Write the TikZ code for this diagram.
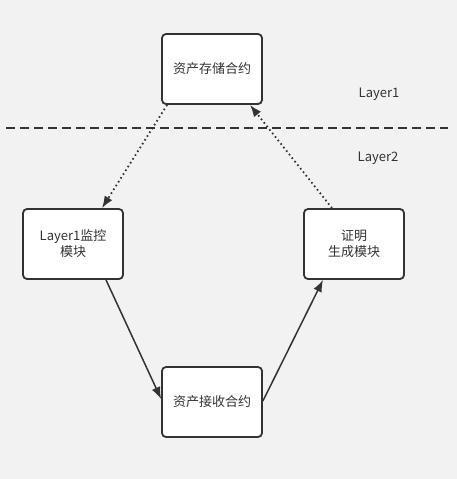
\documentclass[tikz,border=0pt]{standalone}
\usepackage{fontspec}
\setmainfont{Noto Sans CJK SC}
\usetikzlibrary{arrows.meta}
\definecolor{bg}{HTML}{F2F2F2}
\definecolor{ink}{HTML}{333333}
\begin{document}
\begin{tikzpicture}[x=1pt,y=-1pt,
  box/.style={draw=ink, fill=white, line width=1.8pt, rounded corners=4pt,
    minimum width=100pt, minimum height=70pt, inner sep=0pt, align=center,
    text=ink, font=\fontsize{13pt}{16pt}\selectfont},
  lbl/.style={text=ink, font=\fontsize{13pt}{16pt}\selectfont},
  conn/.style={draw=ink, line width=1.5pt, -{Latex[length=12pt,width=9pt]}},
  dotconn/.style={conn, line width=1.8pt, dash pattern=on 1.6pt off 2.9pt}]
\fill[bg] (0,0) rectangle (457,479);
\useasboundingbox (0,0) rectangle (457,479);
\draw[ink, line width=1.8pt, dash pattern=on 9pt off 5pt] (6,128) -- (448,128);
\node[box] (top) at (212,69) {资产存储合约};
\node[box] (left) at (73,244) {Layer1监控\\模块};
\node[box] (right) at (354,244) {证明\\生成模块};
\node[box] (bottom) at (212,402) {资产接收合约};
\node[lbl] (l1) at (379,94) {Layer1};
\node[lbl] (l2) at (378,158) {Layer2};
\draw[dotconn] ([xshift=6pt]top.south west) -- ([xshift=29pt]left.north);
\draw[dotconn] ([xshift=-22pt]right.north) -- ([xshift=38pt]top.south);
\draw[conn] ([xshift=33pt]left.south) -- ([yshift=3pt]bottom.west);
\draw[conn] ([yshift=1pt]bottom.east) -- ([xshift=-31pt]right.south);
\end{tikzpicture}
\end{document}
